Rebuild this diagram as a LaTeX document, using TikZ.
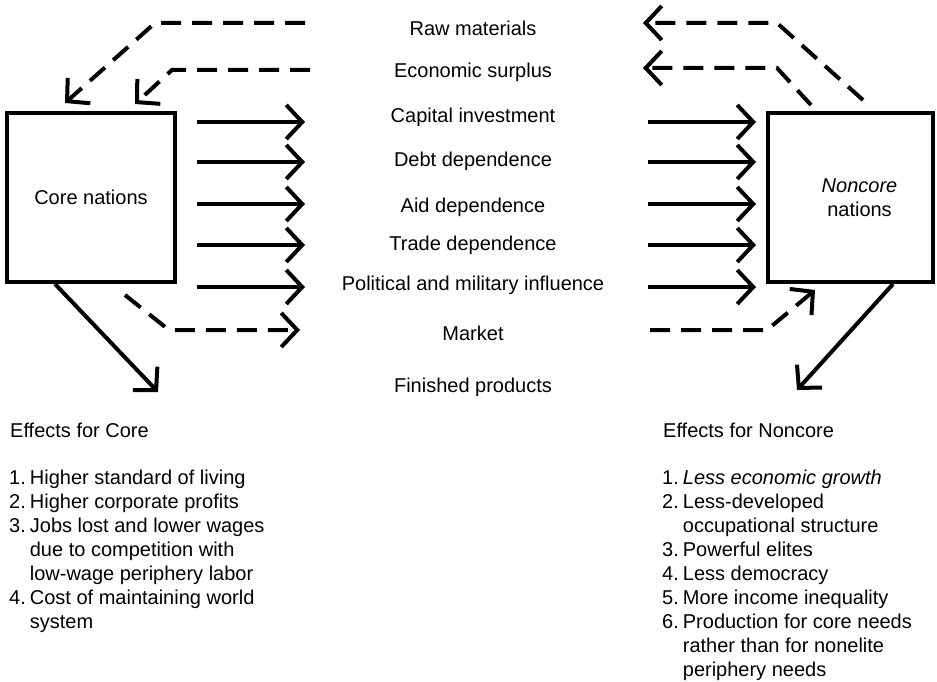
\documentclass[tikz,border=0pt]{standalone}
\usepackage{fontspec}
\setmainfont{Liberation Sans}
\usetikzlibrary{arrows.meta}

\begin{document}
\begin{tikzpicture}[x=1pt,y=-1pt,line join=miter,
   flow/.style={-{Straight Barb[length=16pt,width=34pt]},line width=4pt},
   dflow/.style={flow,dash pattern=on 20pt off 11pt},
   nation/.style={draw,line width=4pt,inner sep=0pt,align=center,font=\fontsize{20}{24}\selectfont},
   lbl/.style={inner sep=0pt,font=\fontsize{20}{24}\selectfont},
   effects/.style={lbl,anchor=north west}]
 \useasboundingbox (0,0) rectangle (937,682);
 \node[nation,minimum width=168pt,minimum height=169pt] (core) at (91,197.5) {Core nations};
 \node[nation,minimum width=165pt,minimum height=169pt] (noncore) at (850.5,197.5) {\hspace*{18pt}\textit{Noncore}\\\hspace*{18pt}nations};
 \node[lbl] (raw) at (473,28) {Raw materials};
 \node[lbl] (surplus) at (473,72) {Economic surplus};
 \node[lbl] (capital) at (473,117) {Capital investment};
 \node[lbl] (debt) at (473,161) {Debt dependence};
 \node[lbl] (aid) at (473,207) {Aid dependence};
 \node[lbl] (trade) at (473,245) {Trade dependence};
 \node[lbl] (military) at (473,285) {Political and military influence};
 \node[lbl] (market) at (473,333) {Market};
 \node[lbl] (finished) at (473,387) {Finished products};
 \coordinate (r1) at (473,122);
 \coordinate (r2) at (473,162);
 \coordinate (r3) at (473,204);
 \coordinate (r4) at (473,245);
 \coordinate (r5) at (473,287);
 \coordinate (r6) at (473,330);
 \coordinate (rawL) at (305,23);
 \coordinate (rawR) at (643,23);
 \coordinate (surL) at (310,70);
 \coordinate (surR) at (643,68);
 \coordinate (finL) at (158,392);
 \coordinate (finR) at (797,390);
 % flows from core to noncore
 \draw[flow] ([xshift=20pt]core.east |- r1) -- ++(108,0);
 \draw[flow] ([xshift=20pt]core.east |- r2) -- ++(108,0);
 \draw[flow] ([xshift=20pt]core.east |- r3) -- ++(108,0);
 \draw[flow] ([xshift=20pt]core.east |- r4) -- ++(108,0);
 \draw[flow] ([xshift=20pt]core.east |- r5) -- ++(108,0);
 \draw[flow] ([xshift=-118pt]noncore.west |- r1) -- ++(108,0);
 \draw[flow] ([xshift=-118pt]noncore.west |- r2) -- ++(108,0);
 \draw[flow] ([xshift=-118pt]noncore.west |- r3) -- ++(108,0);
 \draw[flow] ([xshift=-118pt]noncore.west |- r4) -- ++(108,0);
 \draw[flow] ([xshift=-118pt]noncore.west |- r5) -- ++(108,0);
 % flows from noncore to core
 \draw[dflow] (rawL) -- (155,23) -- ([shift={(60,-8)}]core.north west);
 \draw[dflow] (surL) -- (172,70) -- ([shift={(130,-7)}]core.north west);
 \draw[dflow] ([shift={(97,-11)}]noncore.north west) -- (777,23) -- (rawR);
 \draw[dflow] ([shift={(45,-6)}]noncore.north west) -- (777,68) -- (surR);
 % market and finished products
 \draw[dflow] ([shift={(120,11)}]core.south west) -- (169,330) -- (r6 -| 300,0);
 \draw[dflow] (r6 -| 650,0) -- (767,330) -- ([shift={(49,6)}]noncore.south west);
 \draw[flow] ([xshift=50pt]core.south west) -- (finL);
 \draw[flow] ([xshift=127pt]noncore.south west) -- (finR);
 \node[lbl,anchor=west] (ecore) at (10,430) {Effects for Core};
 \node[lbl,anchor=west] (enoncore) at (663,430) {Effects for Noncore};
 \node[effects] (lcore) at (9,467) {%
  \begin{tabular}{@{}l@{\hspace{4pt}}l@{}}
   1. & Higher standard of living\\
   2. & Higher corporate profits\\
   3. & Jobs lost and lower wages\\
      & due to competition with\\
      & low-wage periphery labor\\
   4. & Cost of maintaining world\\
      & system
  \end{tabular}};
 \node[effects] (lnoncore) at (662,467) {%
  \begin{tabular}{@{}l@{\hspace{4pt}}l@{}}
   1. & \textit{Less economic growth}\\
   2. & Less-developed\\
      & occupational structure\\
   3. & Powerful elites\\
   4. & Less democracy\\
   5. & More income inequality\\
   6. & Production for core needs\\
      & rather than for nonelite\\
      & periphery needs
  \end{tabular}};
\end{tikzpicture}
\end{document}
